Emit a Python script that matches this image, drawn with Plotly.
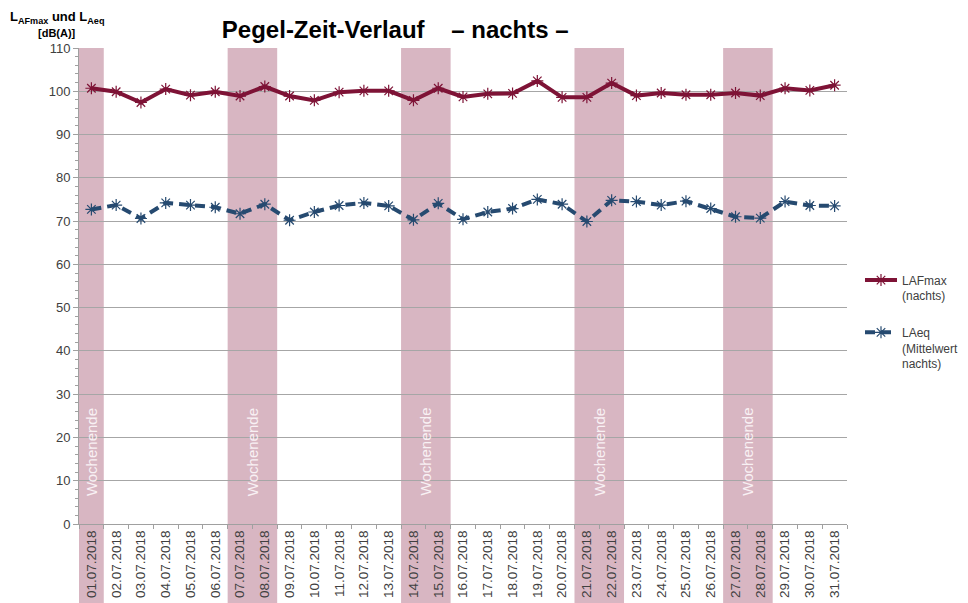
import plotly.graph_objects as go

dates = [f"{d:02d}.07.2018" for d in range(1, 32)]
lafmax = [100.7, 99.9, 97.4, 100.5, 99.1, 99.9, 98.9, 101.1, 98.9, 97.9,
          99.8, 100.1, 100.1, 97.9, 100.7, 98.7, 99.4, 99.5, 102.4, 98.6,
          98.6, 101.9, 99.0, 99.6, 99.2, 99.2, 99.6, 99.0, 100.7, 100.2, 101.4]
laeq = [72.7, 73.7, 70.6, 74.2, 73.7, 73.2, 71.7, 73.9, 70.2, 72.1,
        73.6, 74.2, 73.5, 70.3, 74.1, 70.4, 72.1, 72.9, 75.0, 73.9,
        69.9, 74.8, 74.5, 73.7, 74.6, 72.9, 71.0, 70.7, 74.5, 73.6, 73.5]
weekends = [("01.07.2018", "01.07.2018"), ("07.07.2018", "08.07.2018"),
            ("14.07.2018", "15.07.2018"), ("21.07.2018", "22.07.2018"),
            ("27.07.2018", "28.07.2018")]
weekend_label = "Wochenende"
y_ticks = list(range(0, 111, 10))

FONT = "Liberation Sans, Arial, sans-serif"
RED = "#7e1336"
BLUE = "#264a70"
BAND = "#d8b6c2"

fig = go.Figure()
fig.add_trace(go.Scatter(
    x=dates, y=lafmax, mode="lines+markers", name="LAFmax<br>(nachts)",
    legendgroup="a",
    line=dict(color=RED, width=4),
    marker=dict(symbol="asterisk-open", size=10, color=RED, line=dict(color=RED, width=1.2)),
))
fig.add_trace(go.Scatter(
    x=dates, y=laeq, mode="lines+markers", name="LAeq<br>(Mittelwert<br>nachts)",
    legendgroup="b",
    line=dict(color=BLUE, width=4, dash="10px,6px"),
    marker=dict(symbol="asterisk-open", size=10, color=BLUE, line=dict(color=BLUE, width=1.2)),
))

for a, b in weekends:
    i0 = dates.index(a)
    i1 = dates.index(b)
    fig.add_shape(type="rect", xref="x", yref="paper",
                  x0=i0 - 0.5, x1=i1 + 0.5, y0=-0.2, y1=1.0,
                  fillcolor=BAND, line=dict(width=0), layer="below")
    fig.add_annotation(x=(i0 + i1) / 2, y=16.7, xref="x", yref="y",
                       text=weekend_label, textangle=-90, showarrow=False,
                       font=dict(family=FONT, size=15, color="#f8f1f4"))

fig.add_annotation(xref="paper", yref="paper", x=-0.029, y=1.087,
                   text="<b>L<sub>AFmax</sub> und L<sub>Aeq</sub></b>", showarrow=False,
                   font=dict(family=FONT, size=13, color="#000000"), xanchor="center")
fig.add_annotation(xref="paper", yref="paper", x=-0.029, y=1.049,
                   text="<b>[dB(A)]</b>", showarrow=False,
                   font=dict(family=FONT, size=11, color="#000000"), xanchor="center")

fig.update_layout(
    width=960, height=595,
    margin=dict(l=71, r=121, t=40, b=79, autoexpand=False),
    paper_bgcolor="white", plot_bgcolor="white",
    font=dict(family=FONT, color="#404040"),
    title=dict(text="<b>Pegel-Zeit-Verlauf\u00a0\u00a0\u00a0\u00a0– nachts –</b>",
               x=0.186, xref="paper", xanchor="left", y=0.963, yanchor="middle",
               font=dict(family=FONT, size=24, color="#000000")),
    showlegend=True,
    legend=dict(x=0.8875, y=0.5667, xref="container", yref="container",
                xanchor="left", yanchor="top", valign="top", itemwidth=32,
                font=dict(family=FONT, size=12, color="#404040"),
                tracegroupgap=18, bgcolor="rgba(0,0,0,0)"),
    xaxis=dict(type="category", tickangle=-90, ticks="outside", ticklen=4,
               tickson="boundaries", tickcolor="#a0a0a0", automargin=False,
               showline=True, linecolor="#a0a0a0", linewidth=1,
               showgrid=False, tickfont=dict(family=FONT, size=13.5, color="#404040"),
               range=[-0.5, len(dates) - 0.5]),
    yaxis=dict(range=[0, 110], tickvals=y_ticks, ticks="outside", ticklen=5,
               tickcolor="#a0a0a0", showline=True, linecolor="#a0a0a0", automargin=False,
               showgrid=True, gridcolor="#a6a6a6", gridwidth=1, zeroline=False,
               minor=dict(dtick=2, ticks="outside", ticklen=3, tickcolor="#a0a0a0", showgrid=False),
               tickfont=dict(family=FONT, size=13, color="#404040")),
)

fig.write_html("out.html")
